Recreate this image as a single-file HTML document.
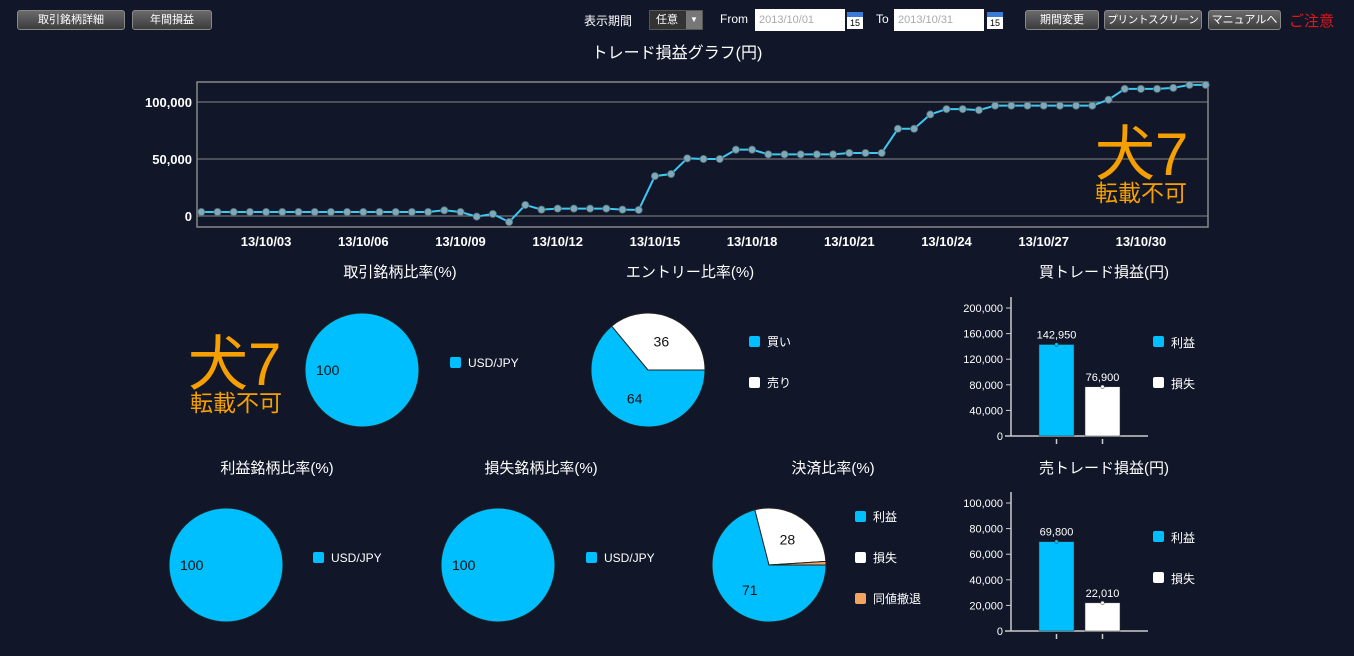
<!DOCTYPE html>
<html><head><meta charset="utf-8">
<style>
body{margin:0;width:1354px;height:656px;background:#111628;overflow:hidden;font-family:"Liberation Sans","Noto Sans CJK JP",sans-serif;color:#fff;position:relative}
.btn{position:absolute;top:10px;height:20px;background:linear-gradient(#6a6a6a,#3c3c3c);border:1px solid #888;border-radius:3px;color:#fff;font-size:11px;line-height:18px;text-align:center;box-sizing:border-box;white-space:nowrap;overflow:hidden}
.lbl{position:absolute;font-size:12px;top:12px}
.inp{position:absolute;top:9px;height:22px;width:90px;background:#fff;color:#aaa;font-size:11px;line-height:22px;padding-left:4px;box-sizing:border-box}
.cal{position:absolute;top:12px;width:16px;height:17px;background:#fff;border-top:5px solid #3a7bd5;box-sizing:border-box;color:#000;font-size:9px;text-align:center;line-height:12px}
</style></head><body>
<div class="btn" style="left:17px;width:108px">取引銘柄詳細</div>
<div class="btn" style="left:132px;width:80px">年間損益</div>
<div class="lbl" style="left:584px">表示期間</div>
<div style="position:absolute;left:649px;top:10px;width:54px;height:20px;background:#333;border:1px solid #555;box-sizing:border-box;font-size:11px;line-height:18px;padding-left:6px">任意<span style="position:absolute;right:0;top:0;width:16px;height:18px;background:#777;font-size:8px;text-align:center">▼</span></div>
<div class="lbl" style="left:720px">From</div>
<div class="inp" style="left:755px">2013/10/01</div>
<div class="cal" style="left:847px">15</div>
<div class="lbl" style="left:876px">To</div>
<div class="inp" style="left:894px">2013/10/31</div>
<div class="cal" style="left:987px">15</div>
<div class="btn" style="left:1025px;width:74px">期間変更</div>
<div class="btn" style="left:1104px;width:98px;font-size:10.5px;letter-spacing:-0.3px">プリントスクリーン</div>
<div class="btn" style="left:1208px;width:73px">マニュアルへ</div>
<div style="position:absolute;left:1289px;top:10px;color:#e8141a;font-size:15px">ご注意</div>

<svg id="svg" width="1354" height="656" style="position:absolute;left:0;top:0" font-family="Liberation Sans, Noto Sans CJK JP, sans-serif">
<text x="677" y="58" text-anchor="middle" font-size="16" fill="#fff">トレード損益グラフ(円)</text>
<g id="line"></g>
<g id="pies"></g>
<g id="bars"></g>
<g fill="#f5a000">
<text x="1095" y="175" font-size="60">犬7</text>
<text x="1095" y="201" font-size="23">転載不可</text>
<text x="188" y="385" font-size="60">犬7</text>
<text x="190" y="411" font-size="23">転載不可</text>
</g>
</svg>
<script>
const lineValues=[3500,3500,3500,3500,3500,3500,3500,3500,3500,3500,3500,3500,3500,3500,3500,5000,3500,-500,1800,-5300,9700,5600,6500,6500,6500,6500,5600,5300,35000,36800,50600,50000,50000,58200,58200,54100,54100,54100,54100,54100,55300,55300,55300,76500,76500,89100,93800,93800,92900,96800,96800,96800,96800,96800,96800,96800,102000,111500,111500,111500,112400,115000,115000];
const lineYTicks=[0,50000,100000];
const lineXLabels=["13/10/03","13/10/06","13/10/09","13/10/12","13/10/15","13/10/18","13/10/21","13/10/24","13/10/27","13/10/30"];
const lineXLabelIdx=[4,10,16,22,28,34,40,46,52,58];

const pieSymbol=[100];
const pieEntry=[64,36];
const pieWinSymbol=[100];
const pieLossSymbol=[100];
const pieSettle=[71,28,1];
const buyBars=[142950,76900];
const buyTicks=[0,40000,80000,120000,160000,200000];
const sellBars=[69800,22010];
const sellTicks=[0,20000,40000,60000,80000,100000];

const NS="http://www.w3.org/2000/svg";
function mk(p,t,a,txt){const e=document.createElementNS(NS,t);for(const k in a)e.setAttribute(k,a[k]);if(txt!=null)e.textContent=txt;p.appendChild(e);return e;}
const fmt=v=>v.toLocaleString('en-US');

// line chart
const L=document.getElementById('line');
const x0=201.3,dx=16.2,yv=v=>216-v*114/100000,xi=i=>x0+i*dx;
let e=mk(L,'rect',{x:197,y:82,width:1011,height:145,fill:'none',stroke:'#888','stroke-width':1.5});

lineYTicks.forEach(t=>{
 e=mk(L,'line',{x1:197,x2:1208,y1:yv(t),y2:yv(t),stroke:'#888','stroke-width':1});
 
 e=mk(L,'text',{x:192,y:yv(t)+5,'text-anchor':'end','font-size':13,'font-weight':'bold',fill:'#fff'},fmt(t));
 
});
lineXLabels.forEach((s,k)=>{
 e=mk(L,'text',{x:xi(lineXLabelIdx[k]),y:246,'text-anchor':'middle','font-size':13,'font-weight':'bold',fill:'#fff'},s);
 
});
e=mk(L,'polyline',{points:lineValues.map((v,i)=>xi(i)+','+yv(v)).join(' '),fill:'none',stroke:'#3cc8f0','stroke-width':2});

lineValues.forEach((v,i)=>{
 e=mk(L,'circle',{cx:xi(i),cy:yv(v),r:3.6,fill:'#7fa9b8',stroke:'#4a6c7a','stroke-width':0.8});
 
});

// pies
const P=document.getElementById('pies');
const cols=['#00bfff','#ffffff','#f4a460'];
function pie(name,title,tx,ty,cx,cy,vals,labels,legX,legY,legGap){
 const g=mk(P,'g',{});
 e=mk(g,'text',{x:tx,y:ty,'text-anchor':'middle','font-size':15,fill:'#fff'},title);
 
 const r=57,tot=vals.reduce((a,b)=>a+b,0);let a=0;
 vals.forEach((v,i)=>{
  const a1=a+v/tot*2*Math.PI;
  let s;
  if(v>=tot){s=mk(g,'circle',{cx,cy,r,fill:cols[i],stroke:'#222','stroke-width':1});}
  else{const p0=[cx+r*Math.cos(a),cy+r*Math.sin(a)],p1=[cx+r*Math.cos(a1),cy+r*Math.sin(a1)];
   s=mk(g,'path',{d:`M${cx},${cy}L${p0[0]},${p0[1]}A${r},${r} 0 ${a1-a>Math.PI?1:0} 1 ${p1[0]},${p1[1]}Z`,fill:cols[i],stroke:'#222','stroke-width':1});}
  
  if(v/tot>0.05){const m=(a+a1)/2,rr=v>=tot?0:r*0.55;
   e=mk(g,'text',{x:v>=tot?cx-46:cx+rr*Math.cos(m),y:(v>=tot?cy:cy+rr*Math.sin(m))+5,'text-anchor':v>=tot?'start':'middle','font-size':14,fill:'#111'},String(v));
   }
  a=a1;
 });
 labels.forEach((l,i)=>{
  e=mk(g,'rect',{x:legX,y:legY+i*legGap-5,width:11,height:11,rx:2,fill:cols[i]});
  
  e=mk(g,'text',{x:legX+18,y:legY+i*legGap+5,'font-size':12,fill:'#fff'},l);
  
 });
}
pie('symbol-ratio-pie','取引銘柄比率(%)',400,277,362,370,pieSymbol,['USD/JPY'],450,362,41);
pie('entry-ratio-pie','エントリー比率(%)',690,277,648,370,pieEntry,['買い','売り'],749,341,41);
pie('win-symbol-pie','利益銘柄比率(%)',277,473,226,565,pieWinSymbol,['USD/JPY'],313,557,41);
pie('loss-symbol-pie','損失銘柄比率(%)',541,473,498,565,pieLossSymbol,['USD/JPY'],586,557,41);
pie('settle-ratio-pie','決済比率(%)',833,473,769,565,pieSettle,['利益','損失','同値撤退'],855,516,41);

// bars
const B=document.getElementById('bars');
function bar(name,title,ty,y0,vals,ticks){
 const g=mk(B,'g',{});
 const max=ticks[ticks.length-1],h=128,yb=v=>y0-v/max*h;
 e=mk(g,'text',{x:1104,y:ty,'text-anchor':'middle','font-size':15,fill:'#fff'},title);
 
 mk(g,'line',{x1:1011,x2:1011,y1:y0,y2:y0-h-11,stroke:'#ccc','stroke-width':1.5});
 mk(g,'line',{x1:1005,x2:1148,y1:y0,y2:y0,stroke:'#ccc','stroke-width':1.5});
 ticks.forEach(t=>{
  mk(g,'line',{x1:1006,x2:1011,y1:yb(t),y2:yb(t),stroke:'#ccc'});
  e=mk(g,'text',{x:1003,y:yb(t)+4,'text-anchor':'end','font-size':11,fill:'#fff'},fmt(t));
  
 });
 const bx=[1039,1085];
 vals.forEach((v,i)=>{
  e=mk(g,'rect',{x:bx[i],y:yb(v),width:35,height:y0-yb(v),fill:cols[i],stroke:'#333','stroke-width':0.5});
  
  mk(g,'circle',{cx:bx[i]+17.5,cy:yb(v),r:1.8,fill:i?'#fff':'#00bfff',stroke:'#333','stroke-width':0.5});
  mk(g,'line',{x1:bx[i]+17.5,x2:bx[i]+17.5,y1:y0+3,y2:y0+8,stroke:'#ccc','stroke-width':1.5});
  e=mk(g,'text',{x:bx[i]+17.5,y:yb(v)-6,'text-anchor':'middle','font-size':11,fill:'#fff'},fmt(v));
  
 });
 ['利益','損失'].forEach((l,i)=>{
  e=mk(g,'rect',{x:1153,y:y0-100+i*41,width:11,height:11,rx:2,fill:cols[i]});
  
  e=mk(g,'text',{x:1171,y:y0-89+i*41,'font-size':12,fill:'#fff'},l);
  
 });
}
bar('buy-trade-bar-chart','買トレード損益(円)',277,436,buyBars,buyTicks);
bar('sell-trade-bar-chart','売トレード損益(円)',473,631,sellBars,sellTicks);
</script>
</body></html>
